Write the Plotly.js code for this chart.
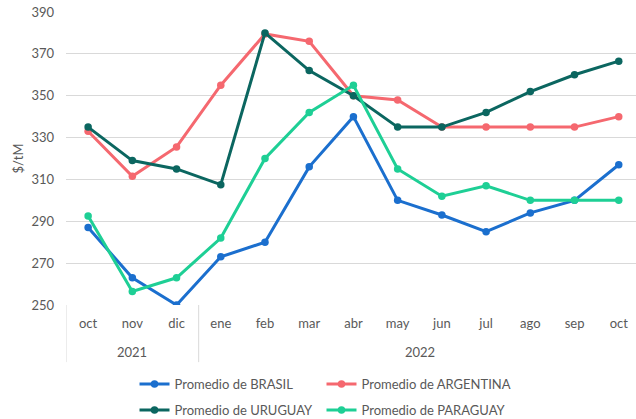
<!DOCTYPE html>
<html>
<head>
<meta charset="utf-8">
<script src="https://cdn.plot.ly/plotly-3.0.1.min.js"></script>
<style>html,body{margin:0;padding:0;background:#fff;}#chart{width:636px;height:419px;}</style>
</head>
<body>
<div id="chart"></div>
<script>
const years = ['2021','2021','2021','2022','2022','2022','2022','2022','2022','2022','2022','2022','2022'];
const months = ['oct','nov','dic','ene','feb','mar','abr','may','jun','jul','ago','sep','oct'];
const brasil = [287, 263, 250, 273, 280, 316, 340, 300, 293, 285, 294, 300, 317];
const argentina = [333, 311.5, 325.5, 355, 379.5, 376, 350, 348, 335, 335, 335, 335, 340];
const uruguay = [335, 319, 315, 307.5, 380, 362, 350, 335, 335, 342, 352, 360, 366.5];
const paraguay = [292.5, 256.5, 263, 282, 320, 342, 355, 315, 302, 307, 300, 300, 300];
const names = ['Promedio de BRASIL','Promedio de ARGENTINA','Promedio de URUGUAY','Promedio de PARAGUAY'];
const colors = ['#1b6fce','#f5686f','#0b6660','#1ecf95'];
const series = [brasil, argentina, uruguay, paraguay];
const legendIds = ['legend','legend2','legend3','legend4'];

const xIdx = months.map((m, i) => i);

const traces = series.map((s, i) => ({
  type: 'scatter', mode: 'lines+markers',
  x: xIdx, y: s, name: names[i],
  line: {color: colors[i], width: 3},
  marker: {color: colors[i], size: 7.5},
  legend: legendIds[i]
}));

// year groups
const yearNames = [...new Set(years)];
const groups = yearNames.map(y => {
  const idx = years.map((v, i) => v === y ? i : -1).filter(i => i >= 0);
  return {name: y, first: idx[0], last: idx[idx.length - 1]};
});

const fam = 'Lato, "Open Sans", sans-serif';
const grey = '#595959';
const divBottom = -0.195;

const shapes = [];
groups.forEach(g => {
  shapes.push({type: 'line', xref: 'x', yref: 'paper', x0: g.first - 0.5, x1: g.first - 0.5,
    y0: 0, y1: divBottom, line: {color: '#d9d9d9', width: 1}});
});
const annotations = groups.map(g => ({
  xref: 'x', yref: 'paper', x: (g.first + g.last) / 2, y: -0.16,
  text: g.name, showarrow: false, xanchor: 'center', yanchor: 'middle',
  font: {family: fam, size: 13, color: grey}
}));

const legFont = {family: fam, size: 13, color: grey};
const legPos = [[0.2115, 0.119], [0.5055, 0.119], [0.2115, 0.057], [0.5055, 0.057]];
const layout = {
  width: 636, height: 419,
  margin: {l: 66, r: 0, t: 12, b: 114},
  paper_bgcolor: '#fff', plot_bgcolor: '#fff',
  font: {family: fam, size: 13, color: grey},
  showlegend: true,
  xaxis: {
    range: [-0.5, 12.39],
    tickmode: 'array', tickvals: xIdx, ticktext: months,
    showgrid: false, zeroline: false, showline: false,
    ticks: '', ticklabelstandoff: 9,
    tickfont: {family: fam, size: 13, color: grey}
  },
  yaxis: {
    range: [250, 390], dtick: 20, tick0: 250,
    showgrid: true, gridcolor: '#d9d9d9', gridwidth: 1,
    zeroline: false, showline: false,
    ticks: '', ticklabelstandoff: 11,
    tickfont: {family: fam, size: 13, color: grey},
    title: {text: '$/tM', font: {family: fam, size: 13, color: grey}, standoff: 4}
  },
  shapes: shapes,
  annotations: annotations
};
legendIds.forEach((id, i) => {
  layout[id] = {
    orientation: 'h', xref: 'container', yref: 'container',
    x: legPos[i][0], y: legPos[i][1], xanchor: 'left', yanchor: 'top',
    font: legFont, itemwidth: 30, bgcolor: 'rgba(0,0,0,0)'
  };
});
Plotly.newPlot('chart', traces, layout, {displayModeBar: false, staticPlot: true});
</script>
</body>
</html>
